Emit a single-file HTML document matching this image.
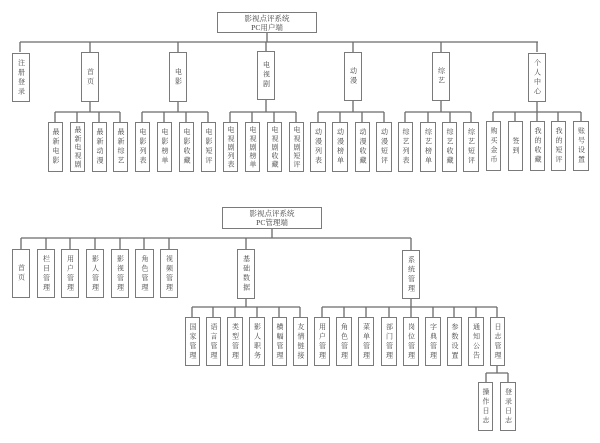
<!DOCTYPE html>
<html><head><meta charset="utf-8"><style>
body{margin:0;width:600px;height:443px;background:#fff;position:relative;overflow:hidden;font-family:"Liberation Serif","Noto Serif CJK SC","Noto Sans CJK SC",serif;color:#444}
svg{position:absolute;left:0;top:0}
.b{position:absolute;box-sizing:border-box;border:1.5px solid #7a7a7a;background:#fff;display:flex;align-items:center;justify-content:center;overflow:visible}
.b span{writing-mode:vertical-rl;font-size:7px;letter-spacing:2.5px;line-height:1;white-space:nowrap}
.b span.f{letter-spacing:1.6px}
.r{position:absolute;box-sizing:border-box;border:1.5px solid #7a7a7a;background:#fff;font-size:7.5px;text-align:center;line-height:9px;padding-top:1px}
</style></head><body>
<svg width="600" height="443" stroke="#6a6a6a" stroke-width="1.3" fill="none">
<path d="M267 32V42M20 42H538M20 42V52M90 42V52M178 42V52M266 42V52M353 42V52M441 42V52M537 42V52"/>
<path d="M90 102V112M55 112H120M55 112V122M77 112V122M99 112V122M120 112V122"/>
<path d="M178 102V112M142 112H208M142 112V122M164 112V122M186 112V122M208 112V122"/>
<path d="M266 100V112M230 112H296M230 112V122M252 112V122M274 112V122M296 112V122"/>
<path d="M353 101V112M318 112H384M318 112V122M340 112V122M362 112V122M384 112V122"/>
<path d="M441 101V112M405 112H471M405 112V122M428 112V122M450 112V122M471 112V122"/>
<path d="M537 102V112M493 112H581M493 112V121M515 112V121M537 112V121M558 112V121M581 112V121"/>
<path d="M272 228V238M21 238H411M21 238V249M46 238V249M70 238V249M95 238V249M120 238V249M144 238V249M169 238V249M246 238V249M411 238V250"/>
<path d="M246 299V307M192 307H300M192 307V317M213 307V317M235 307V317M257 307V317M279 307V317M300 307V317"/>
<path d="M411 299V307M322 307H497M322 307V317M344 307V317M366 307V317M389 307V317M411 307V317M433 307V317M454 307V317M476 307V317M497 307V317"/>
<path d="M497 366V373M486 373H508M486 373V382M508 373V382"/>
</svg>

<div class="r" style="left:217px;top:12px;width:100px;height:21px">影视点评系统<br>PC用户端</div>
<div class="b" style="left:12px;top:53px;width:18px;height:49px"><span>注册登录</span></div>
<div class="b" style="left:81px;top:52px;width:18px;height:50px"><span>首页</span></div>
<div class="b" style="left:169px;top:52px;width:18px;height:50px"><span>电影</span></div>
<div class="b" style="left:257px;top:51px;width:18px;height:49px"><span>电视剧</span></div>
<div class="b" style="left:344px;top:52px;width:18px;height:49px"><span>动漫</span></div>
<div class="b" style="left:432px;top:52px;width:18px;height:49px"><span>综艺</span></div>
<div class="b" style="left:528px;top:53px;width:18px;height:49px"><span>个人中心</span></div>

<div class="b" style="left:48px;top:122px;width:15px;height:50px"><span>最新电影</span></div>
<div class="b" style="left:70px;top:122px;width:15px;height:50px"><span class="f">最新电视剧</span></div>
<div class="b" style="left:92px;top:122px;width:15px;height:50px"><span>最新动漫</span></div>
<div class="b" style="left:113px;top:122px;width:15px;height:50px"><span>最新综艺</span></div>
<div class="b" style="left:135px;top:122px;width:15px;height:50px"><span>电影列表</span></div>
<div class="b" style="left:157px;top:122px;width:15px;height:50px"><span>电影榜单</span></div>
<div class="b" style="left:179px;top:122px;width:15px;height:50px"><span>电影收藏</span></div>
<div class="b" style="left:201px;top:122px;width:15px;height:50px"><span>电影短评</span></div>
<div class="b" style="left:223px;top:122px;width:15px;height:50px"><span class="f">电视剧列表</span></div>
<div class="b" style="left:245px;top:122px;width:15px;height:50px"><span class="f">电视剧榜单</span></div>
<div class="b" style="left:267px;top:122px;width:15px;height:50px"><span class="f">电视剧收藏</span></div>
<div class="b" style="left:289px;top:122px;width:15px;height:50px"><span class="f">电视剧短评</span></div>
<div class="b" style="left:310px;top:122px;width:16px;height:50px"><span>动漫列表</span></div>
<div class="b" style="left:332px;top:122px;width:16px;height:50px"><span>动漫榜单</span></div>
<div class="b" style="left:355px;top:122px;width:15px;height:50px"><span>动漫收藏</span></div>
<div class="b" style="left:376px;top:122px;width:16px;height:50px"><span>动漫短评</span></div>
<div class="b" style="left:398px;top:122px;width:15px;height:50px"><span>综艺列表</span></div>
<div class="b" style="left:420px;top:122px;width:16px;height:50px"><span>综艺榜单</span></div>
<div class="b" style="left:442px;top:122px;width:15px;height:50px"><span>综艺收藏</span></div>
<div class="b" style="left:463px;top:122px;width:16px;height:50px"><span>综艺短评</span></div>
<div class="b" style="left:486px;top:121px;width:15px;height:50px"><span>购买金币</span></div>
<div class="b" style="left:508px;top:121px;width:15px;height:50px"><span>签到</span></div>
<div class="b" style="left:530px;top:121px;width:15px;height:50px"><span>我的收藏</span></div>
<div class="b" style="left:551px;top:121px;width:15px;height:50px"><span>我的短评</span></div>
<div class="b" style="left:573px;top:121px;width:16px;height:50px"><span>账号设置</span></div>

<div class="r" style="left:222px;top:207px;width:100px;height:22px">影视点评系统<br>PC管理端</div>
<div class="b" style="left:12px;top:249px;width:18px;height:49px"><span>首页</span></div>
<div class="b" style="left:37px;top:249px;width:18px;height:49px"><span>栏目管理</span></div>
<div class="b" style="left:61px;top:249px;width:18px;height:49px"><span>用户管理</span></div>
<div class="b" style="left:86px;top:249px;width:18px;height:49px"><span>影人管理</span></div>
<div class="b" style="left:111px;top:249px;width:18px;height:49px"><span>影视管理</span></div>
<div class="b" style="left:135px;top:249px;width:19px;height:49px"><span>角色管理</span></div>
<div class="b" style="left:160px;top:249px;width:18px;height:49px"><span>视频管理</span></div>
<div class="b" style="left:237px;top:249px;width:18px;height:50px"><span>基础数据</span></div>
<div class="b" style="left:402px;top:250px;width:18px;height:49px"><span>系统管理</span></div>

<div class="b" style="left:185px;top:317px;width:15px;height:49px"><span>国家管理</span></div>
<div class="b" style="left:206px;top:317px;width:15px;height:49px"><span>语言管理</span></div>
<div class="b" style="left:227px;top:317px;width:16px;height:49px"><span>类型管理</span></div>
<div class="b" style="left:249px;top:317px;width:16px;height:49px"><span>影人职务</span></div>
<div class="b" style="left:272px;top:317px;width:15px;height:49px"><span>横幅管理</span></div>
<div class="b" style="left:293px;top:317px;width:15px;height:49px"><span>友情链接</span></div>
<div class="b" style="left:314px;top:317px;width:16px;height:49px"><span>用户管理</span></div>
<div class="b" style="left:336px;top:317px;width:16px;height:49px"><span>角色管理</span></div>
<div class="b" style="left:358px;top:317px;width:16px;height:49px"><span>菜单管理</span></div>
<div class="b" style="left:381px;top:317px;width:16px;height:49px"><span>部门管理</span></div>
<div class="b" style="left:403px;top:317px;width:16px;height:49px"><span>岗位管理</span></div>
<div class="b" style="left:425px;top:317px;width:16px;height:49px"><span>字典管理</span></div>
<div class="b" style="left:447px;top:317px;width:15px;height:49px"><span>参数设置</span></div>
<div class="b" style="left:468px;top:317px;width:16px;height:49px"><span>通知公告</span></div>
<div class="b" style="left:490px;top:317px;width:15px;height:49px"><span>日志管理</span></div>
<div class="b" style="left:478px;top:382px;width:15px;height:49px"><span>操作日志</span></div>
<div class="b" style="left:500px;top:382px;width:16px;height:49px"><span>登录日志</span></div>
</body></html>
